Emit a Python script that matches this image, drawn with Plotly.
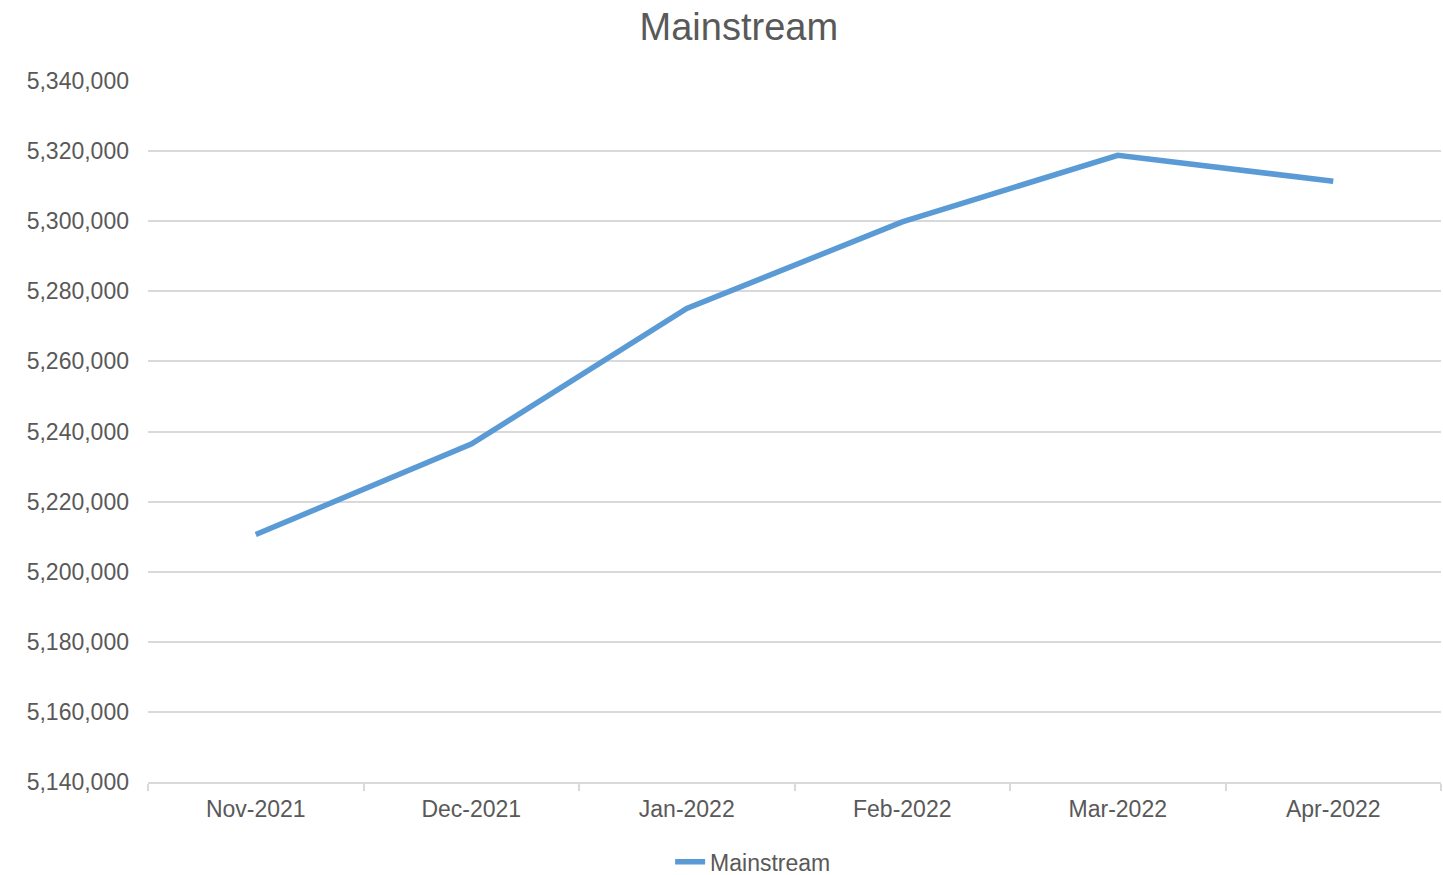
import plotly.graph_objects as go

months = ["Nov-2021", "Dec-2021", "Jan-2022", "Feb-2022", "Mar-2022", "Apr-2022"]
mainstream = [5210600, 5236400, 5275100, 5299800, 5318800, 5311400]

FONT = "Liberation Sans, Arial, sans-serif"
TXT = "#595959"
GRID = "#D9D9D9"

fig = go.Figure()
fig.add_trace(go.Scatter(
    x=months, y=mainstream, mode="lines", name="Mainstream",
    line=dict(color="#5B9BD5", width=5.5, shape="linear"),
))

fig.update_layout(
    width=1443, height=875,
    margin=dict(l=148, r=2, t=81, b=93, autoexpand=False),
    paper_bgcolor="white", plot_bgcolor="white",
    title=dict(text="Mainstream", x=0.512, xanchor="center", y=0.969, yanchor="middle",
               font=dict(family=FONT, size=38, color=TXT)),
    font=dict(family=FONT, size=23, color=TXT),
    showlegend=True,
    legend=dict(orientation="h", x=0.468, xanchor="center", y=-0.114, yanchor="middle",
                font=dict(family=FONT, size=23, color=TXT)),
)
fig.update_xaxes(
    type="category", range=[-0.5, 5.5],
    showgrid=False, showline=True, linecolor=GRID, linewidth=1.5,
    ticks="outside", tickson="boundaries", ticklen=7, tickcolor=GRID, tickwidth=1.5,
    ticklabelstandoff=6, automargin=False,
    tickfont=dict(family=FONT, size=23, color=TXT),
)
fig.update_yaxes(
    range=[5140000, 5340000], dtick=20000, tickformat=",d",
    showgrid=True, gridcolor=GRID, gridwidth=1.5, zeroline=False, showline=False,
    ticks="", ticklabelstandoff=18, automargin=False,
    tickfont=dict(family=FONT, size=23, color=TXT),
)

fig.write_html("out.html")
